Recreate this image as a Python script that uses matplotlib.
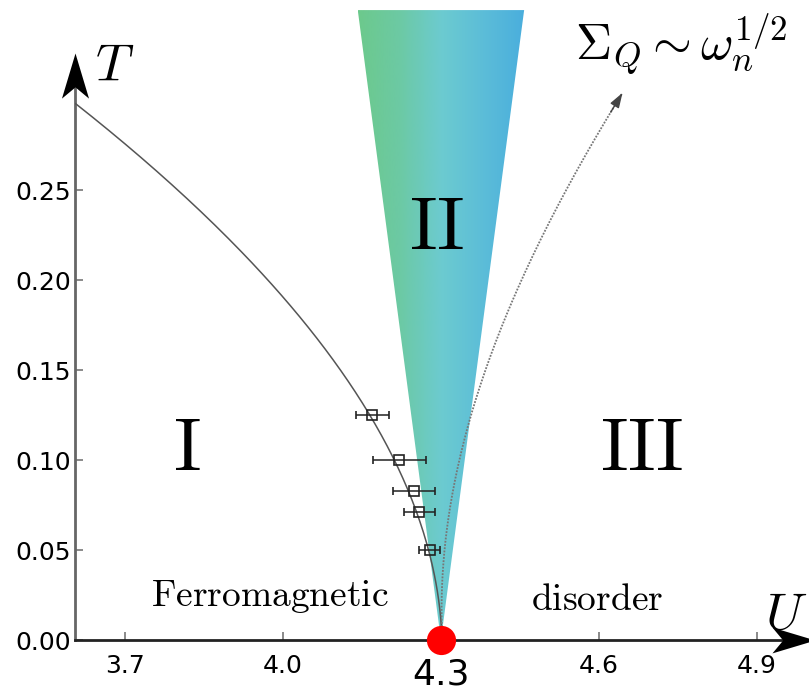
import numpy as np
import matplotlib
matplotlib.use("Agg")
import matplotlib.pyplot as plt
from matplotlib.colors import LinearSegmentedColormap
from matplotlib.patches import Polygon
from matplotlib.path import Path

plt.rcParams['mathtext.fontset'] = 'cm'
plt.rcParams['font.family'] = 'DejaVu Sans'

# critical line T_c(U) separating region I from the critical fan
tc_u = [3.605, 3.703, 3.798, 3.893, 3.988, 4.083, 4.146, 4.203, 4.254, 4.279, 4.292, 4.300]
tc_t = [0.298, 0.274, 0.252, 0.226, 0.193, 0.157, 0.135, 0.107, 0.070, 0.048, 0.033, 0.000]

# QMC estimates of T_c with error bars in U
qmc_u = [4.170, 4.221, 4.249, 4.259, 4.279]
qmc_t = [0.125, 0.100, 0.083, 0.071, 0.050]
qmc_err = [0.031, 0.050, 0.040, 0.030, 0.020]

# crossover towards the Sigma_Q ~ sqrt(omega_n) regime
cross_u = [4.300, 4.304, 4.313, 4.330, 4.359, 4.374, 4.431, 4.482, 4.532, 4.596, 4.655]
cross_t = [0.000, 0.021, 0.057, 0.094, 0.132, 0.148, 0.182, 0.209, 0.250, 0.287, 0.304]

# quantum critical fan (region II)
u_c = 4.3
fan_left = 4.142
fan_right = 4.458
fan_top = 0.35

x_ticks = [3.7, 4.0, 4.3, 4.6, 4.9]
y_ticks = [0.00, 0.05, 0.10, 0.15, 0.20, 0.25]

xmin, xmax = 3.605, 4.999
ymin, ymax = 0.0, 0.3556


def smooth_line(u, t, deg=3):
    # smooth U(T) through the read points, the lines are near vertical at U_c
    coef = np.polyfit(t, u, deg)
    tt = np.linspace(min(t), max(t), 200)
    return np.polyval(coef, tt), tt


fig = plt.figure(figsize=(8.09, 6.92), dpi=100)
ax = fig.add_axes([75 / 809, 52 / 692, 734 / 809, 640 / 692])

# gradient filled fan, clipped to the triangle
fan_cmap = LinearSegmentedColormap.from_list(
    "fan", ["#6cc98c", "#6cc9a4", "#6ccbd0", "#5cbdd8", "#4aaedd"])
grad = np.linspace(0, 1, 256).reshape(1, -1)
im = ax.imshow(grad, cmap=fan_cmap, extent=[fan_left, fan_right, 0, fan_top],
               aspect='auto', origin='lower', zorder=1)
tri = Polygon([(u_c, 0), (fan_left, fan_top), (fan_right, fan_top)],
              closed=True, transform=ax.transData, facecolor='none', edgecolor='none')
ax.add_patch(tri)
im.set_clip_path(tri)

su, st = smooth_line(tc_u, tc_t)
ax.plot(su, st, color='#555555', lw=1.1, zorder=3)
cu, ct = smooth_line(cross_u, cross_t)
ax.plot(cu, ct, color='#777777', lw=1.3, ls=(0, (1, 0.8)), zorder=3)
ax.annotate('', xy=(cu[-1], ct[-1]), xytext=(cu[-8], ct[-8]),
            arrowprops=dict(arrowstyle='-|>,head_length=0.9,head_width=0.3',
                            color='#444444', lw=1.0, shrinkA=0, shrinkB=0), zorder=4)

ax.errorbar(qmc_u, qmc_t, xerr=qmc_err, fmt='s', ms=6.5, mfc='none', mec='#222222',
            mew=1.2, ecolor='#222222', elinewidth=1.1, capsize=3, capthick=1.1, zorder=4)

ax.plot([u_c], [0], 'o', color='#ff0000', ms=21, mec='none', clip_on=False, zorder=6)

# axes with arrow heads
for side in ['top', 'right']:
    ax.spines[side].set_visible(False)
ax.spines['left'].set_color('#666666')
ax.spines['left'].set_linewidth(2)
ax.spines['left'].set_bounds(0, 0.31)
ax.spines['bottom'].set_color('#222222')
ax.spines['bottom'].set_linewidth(2)
ax.spines['bottom'].set_bounds(xmin, 4.98)

up_arrow = Path([(0, 0), (-0.3, -1), (0, -0.75), (0.3, -1), (0, 0)],
                [Path.MOVETO, Path.LINETO, Path.LINETO, Path.LINETO, Path.CLOSEPOLY])
right_arrow = Path([(0, 0), (-1, 0.3), (-0.75, 0), (-1, -0.3), (0, 0)],
                   [Path.MOVETO, Path.LINETO, Path.LINETO, Path.LINETO, Path.CLOSEPOLY])
ax.plot([xmin], [0.326], marker=up_arrow, ms=65, color='black', mew=0, clip_on=False, zorder=7)
ax.plot([5.01], [0], marker=right_arrow, ms=62, color='black', mew=0, clip_on=False, zorder=7)

ax.set_xlim(xmin, xmax)
ax.set_ylim(ymin, ymax)
ax.set_xticks(x_ticks)
ax.set_xticklabels(['%.1f' % v for v in x_ticks])
ax.set_yticks(y_ticks)
ax.set_yticklabels(['%.2f' % v for v in y_ticks])
ax.tick_params(direction='in', length=6, width=1.2, color='#777777', labelsize=18)
ax.tick_params(axis='y', pad=3)
ax.tick_params(axis='x', pad=10)
for lab in ax.get_xticklabels():
    if lab.get_text() == '4.3':
        lab.set_fontsize(26)
        lab.set_y(-0.006)

# labels
ax.text(3.643, 0.311, r'$T$', fontsize=38, ha='left', va='baseline')
ax.text(4.915, 0.006, r'$U$', fontsize=38, ha='left', va='baseline')
ax.text(4.554, 0.322, r'$\Sigma_Q \sim \omega_n^{1/2}$', fontsize=36, ha='left', va='baseline')
ax.text(3.818, 0.106, r'$\mathrm{I}$', fontsize=55, ha='center', va='center')
ax.text(4.292, 0.229, r'$\mathrm{II}$', fontsize=55, ha='center', va='center', zorder=5)
ax.text(4.680, 0.106, r'$\mathrm{III}$', fontsize=55, ha='center', va='center')
ax.text(3.975, 0.024, r'$\mathrm{Ferromagnetic}$', fontsize=27, ha='center', va='center')
ax.text(4.596, 0.022, r'$\mathrm{disorder}$', fontsize=27, ha='center', va='center')

fig.savefig('out.png', dpi=100)
